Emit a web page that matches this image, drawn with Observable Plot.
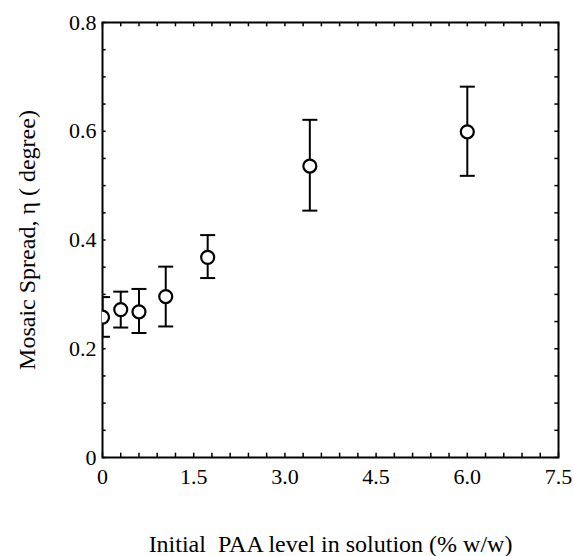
<!DOCTYPE html>
<html>
<head>
<meta charset="utf-8">
<script src="https://cdn.jsdelivr.net/npm/d3@7"></script>
<script src="https://cdn.jsdelivr.net/npm/@observablehq/plot@0.6"></script>
<style>
  html, body { margin: 0; padding: 0; background: #fff; }
</style>
</head>
<body>
<div id="chart"></div>
<script>
// Data
const paaLevel = [0, 0.3, 0.6, 1.04, 1.73, 3.41, 6.0];
const mosaic   = [0.258, 0.272, 0.268, 0.296, 0.368, 0.536, 0.599];
const errLow   = [0.222, 0.239, 0.229, 0.241, 0.330, 0.454, 0.518];
const errHigh  = [0.295, 0.305, 0.310, 0.351, 0.409, 0.621, 0.682];

const xTickLabels = [0, 1.5, 3.0, 4.5, 6.0, 7.5];
const yTickLabels = [0, 0.2, 0.4, 0.6, 0.8];
const xMinorTicks = d3.range(0, 7.5001, 0.3);
const yMinorTicks = d3.range(0, 0.8001, 0.05);

const xLabel = "Initial\u00a0 PAA level in solution (% w/w)";
const yLabel = "Mosaic Spread, \u03b7 ( degree)";

const data = paaLevel.map((x, i) => ({x, y: mosaic[i], lo: errLow[i], hi: errHigh[i]}));

const cap = {
  draw(context, size) {
    const w = Math.sqrt(size / Math.PI);
    context.moveTo(-w, 0);
    context.lineTo(w, 0);
  }
};

const font = "'Liberation Serif', 'Times New Roman', serif";

const chart = Plot.plot({
  width: 574,
  height: 556,
  marginLeft: 102,
  marginRight: 16,
  marginTop: 22,
  marginBottom: 99,
  style: {fontFamily: font, fontSize: "22px", color: "#000", background: "#fff"},
  x: {domain: [0, 7.5]},
  y: {domain: [0, 0.8]},
  marks: [
    // minor ticks, inward on all four sides
    Plot.ruleX(xMinorTicks, {x: d => d, y1: 0, y2: 0.008, stroke: "#000", strokeWidth: 1.5}),
    Plot.ruleX(xMinorTicks, {x: d => d, y1: 0.8, y2: 0.792, stroke: "#000", strokeWidth: 1.5}),
    Plot.ruleY(yMinorTicks, {y: d => d, x1: 0, x2: 0.06, stroke: "#000", strokeWidth: 1.5}),
    Plot.ruleY(yMinorTicks, {y: d => d, x1: 7.5, x2: 7.44, stroke: "#000", strokeWidth: 1.5}),
    Plot.frame({stroke: "#000", strokeWidth: 2}),
    Plot.axisX({ticks: xTickLabels, tickSize: 0, tickPadding: 11, label: null,
      tickFormat: d => d === 0 ? "0" : d.toFixed(1), fontSize: 22}),
    Plot.axisY({ticks: yTickLabels, tickSize: 0, tickPadding: 6, label: null,
      tickFormat: d => d === 0 ? "0" : d.toFixed(1), fontSize: 22}),
    // error bars
    Plot.ruleX(data, {x: "x", y1: "lo", y2: "hi", stroke: "#000", strokeWidth: 2, clip: true}),
    Plot.dot(data, {x: "x", y: "lo", symbol: cap, r: 7.5, stroke: "#000", strokeWidth: 2, clip: true}),
    Plot.dot(data, {x: "x", y: "hi", symbol: cap, r: 7.5, stroke: "#000", strokeWidth: 2, clip: true}),
    Plot.dot(data, {x: "x", y: "y", r: 6.5, stroke: "#000", strokeWidth: 2.2, fill: "#fff", clip: true}),
    // axis titles
    Plot.text([xLabel], {frameAnchor: "bottom", dy: 94, text: d => d, fontSize: 24, fill: "#000"}),
    Plot.text([yLabel], {frameAnchor: "left", textAnchor: "middle", dx: -75, dy: 0, rotate: -90, text: d => d, fontSize: 24, fill: "#000"})
  ]
});

document.getElementById("chart").appendChild(chart);
</script>
</body>
</html>
